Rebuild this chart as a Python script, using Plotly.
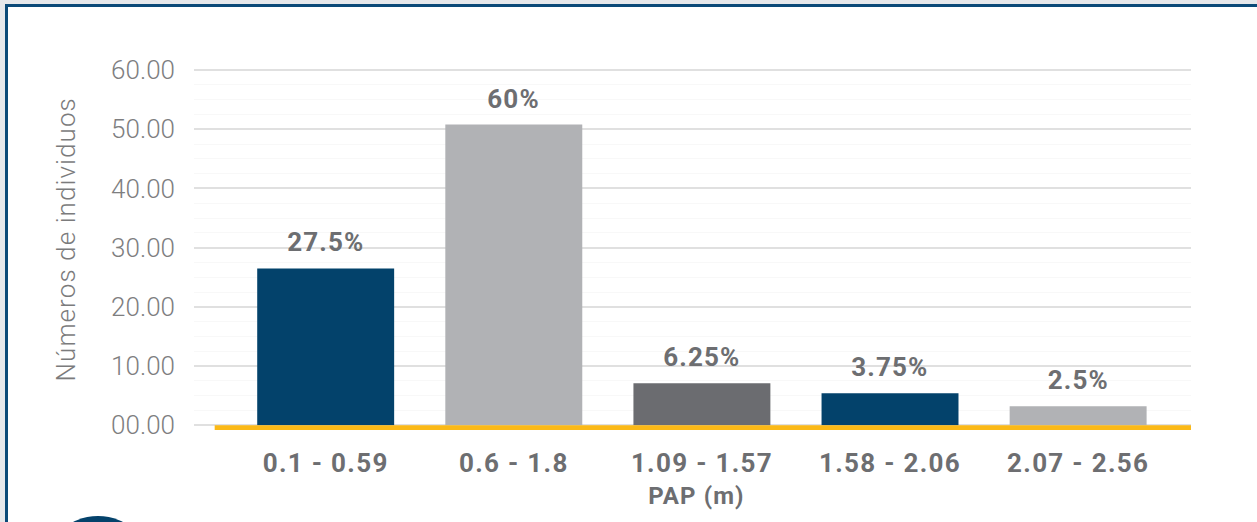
import plotly.graph_objects as go

# ---- data ----
categories = ["0.1 - 0.59", "0.6 - 1.8", "1.09 - 1.57", "1.58 - 2.06", "2.07 - 2.56"]
values = [26.5, 50.8, 7.1, 5.4, 3.2]
pct_labels = ["27.5%", "60%", "6.25%", "3.75%", "2.5%"]
bar_colors = ["#03426b", "#b1b2b5", "#6b6c70", "#03426b", "#b1b2b5"]
y_tickvals = [0, 10, 20, 30, 40, 50, 60]
y_ticktext = ["00.00", "10.00", "20.00", "30.00", "40.00", "50.00", "60.00"]
y_title = "Números de individuos"
x_title = "PAP (m)"

W, H = 1257, 522
L, R, T, B = 194, 66, 68, 92
pw, ph = W - L - R, H - T - B


def px_x(x):
    return (x - L) / pw


def px_y(y):
    return (H - B - y) / ph


fig = go.Figure()
fig.add_trace(go.Bar(
    x=categories, y=values,
    marker=dict(color=bar_colors, line=dict(width=0)),
    showlegend=False, hoverinfo="skip",
))

for c, v, t in zip(categories, values, pct_labels):
    fig.add_annotation(
        x=c, y=v, text=t, showarrow=False, xref="x", yref="y",
        yanchor="middle", yshift=26,
        font=dict(family="Roboto", size=26, color="#6d6e71", weight="bold"),
    )

# axis titles
fig.add_annotation(
    x=px_x(66), y=px_y(240), xref="paper", yref="paper", text=y_title,
    showarrow=False, textangle=-90, xanchor="center", yanchor="middle",
    font=dict(family="Roboto", size=26, color="#7b7b7c", weight=300),
)
fig.add_annotation(
    x=px_x(696), y=px_y(496), xref="paper", yref="paper", text=x_title,
    showarrow=False, xanchor="center", yanchor="middle",
    font=dict(family="Roboto", size=24, color="#6d6e71", weight="bold"),
)

shapes = [
    # card border and background
    dict(type="rect", xref="paper", yref="paper", layer="below",
         x0=px_x(5), x1=px_x(1400), y0=px_y(4), y1=px_y(700),
         fillcolor="#0b4a78", line=dict(width=0)),
    dict(type="rect", xref="paper", yref="paper", layer="below",
         x0=px_x(8), x1=px_x(1400), y0=px_y(7), y1=px_y(700),
         fillcolor="#ffffff", line=dict(width=0)),
    # yellow baseline
    dict(type="rect", xref="x", yref="y", layer="above",
         x0=-0.59, x1=4.6, y0=-0.8, y1=0,
         fillcolor="#fbb917", line=dict(width=0)),
    # decorative circle at bottom-left
    dict(type="circle", xref="paper", yref="paper", layer="above",
         x0=px_x(43), x1=px_x(153), y0=px_y(516), y1=px_y(626),
         fillcolor="#04426b", line=dict(width=0)),
]

fig.update_layout(
    width=W, height=H,
    margin=dict(l=L, r=R, t=T, b=B, autoexpand=False),
    paper_bgcolor="#e6e8eb",
    plot_bgcolor="rgba(0,0,0,0)",
    bargap=0.272,
    shapes=shapes,
    font=dict(family="Roboto"),
    xaxis=dict(
        type="category", range=[-0.7, 4.6],
        showgrid=False, zeroline=False, showline=False, ticks="",
        ticklabelstandoff=15,
        tickfont=dict(family="Roboto", size=26, color="#6d6e71", weight="bold"),
    ),
    yaxis=dict(
        range=[-0.8, 60.35],
        tickvals=y_tickvals, ticktext=y_ticktext,
        showgrid=True, gridcolor="#e0e0e0", gridwidth=2,
        minor=dict(dtick=2.5, showgrid=True, gridcolor="#f8f8f8", gridwidth=1),
        zeroline=False, showline=False, ticks="",
        ticklabelstandoff=18,
        tickfont=dict(family="Roboto", size=26, color="#7e7e7f", weight=300),
    ),
)

post = (
    "document.body.style.margin='0';"
    "var s=document.createElement('style');"
    "s.textContent='.xtick text{letter-spacing:1.3px}"
    " .annotation-text{letter-spacing:1.1px}';"
    "document.head.appendChild(s);"
)
fig.write_html("out.html", post_script=post, config={"displayModeBar": False})
